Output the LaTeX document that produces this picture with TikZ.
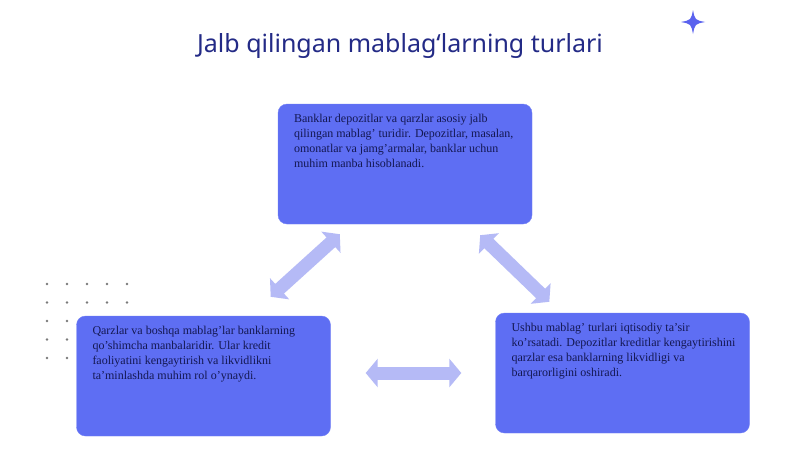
\documentclass[tikz,border=0pt]{standalone}
\usepackage{fontspec}
\setmainfont{Liberation Serif}
\newfontfamily\titlefont{Noto Sans}
\usetikzlibrary{arrows.meta,positioning}

\definecolor{boxblue}{HTML}{5E6EF3}
\definecolor{boxedge}{HTML}{7482F6}
\definecolor{boxtext}{HTML}{141852}
\definecolor{titleblue}{HTML}{232A86}
\definecolor{arrowblue}{HTML}{B5BAF6}
\definecolor{dotgray}{HTML}{7A7A7A}
\definecolor{starblue}{HTML}{5A62EE}

\begin{document}
\begin{tikzpicture}[x=1pt, y=-1pt]
    \tikzstyle{infobox} = [rectangle, rounded corners=9pt, minimum width=254pt, minimum height=120pt, inner sep=0pt, draw=boxedge, fill=boxblue, text=boxtext, font=\fontsize{12}{15}\selectfont]
    \tikzstyle{link} = [line width=13pt, draw=arrowblue, {Triangle[width=28pt,length=12pt]}-{Triangle[width=28pt,length=12pt]}]
    \tikzstyle{heading} = [font=\titlefont\fontsize{25}{30}\selectfont, text=titleblue]

    \useasboundingbox (0,0) rectangle (800,450);
    \fill[white] (0,0) rectangle (800,450);

    % Dot grid
    \foreach \i in {0,...,4}
        \foreach \j in {0,...,4}
            \fill[dotgray] (47+20*\i, 284+18.5*\j) circle (1.3pt);

    % Star
    \fill[starblue] (693,10) .. controls (695,20) .. (705,22) .. controls (695,24) .. (693,34)
        .. controls (691,24) .. (681,22) .. controls (691,20) .. (693,10) -- cycle;

    % Title
    \node [heading] (title) at (400,46) {Jalb qilingan mablag‘larning turlari};

    % Boxes
    \node [infobox] (deposits) at (405,164) {\parbox[c][100pt][t]{226pt}{\raggedright\hspace*{2pt}%
        Banklar depozitlar va qarzlar asosiy jalb\\
        \hspace*{2pt}qilingan mablag' turidir. Depozitlar, masalan,\\
        \hspace*{2pt}omonatlar va jamg'armalar, banklar uchun\\
        \hspace*{2pt}muhim manba hisoblanadi.}};
    \node [infobox] (loans) at (203.5,376) {\parbox[c][100pt][t]{226pt}{\raggedright\hspace*{2pt}%
        Qarzlar va boshqa mablag'lar banklarning\\
        \hspace*{2pt}qo'shimcha manbalaridir. Ular kredit\\
        \hspace*{2pt}faoliyatini kengaytirish va likvidlikni\\
        \hspace*{2pt}ta'minlashda muhim rol o'ynaydi.}};
    \node [infobox] (impact) at (622.5,373) {\parbox[c][100pt][t]{226pt}{\raggedright\hspace*{2pt}%
        Ushbu mablag' turlari iqtisodiy ta'sir\\
        \hspace*{2pt}ko'rsatadi. Depozitlar kreditlar kengaytirishini\\
        \hspace*{2pt}qarzlar esa banklarning likvidligi va\\
        \hspace*{2pt}barqarorligini oshiradi.}};

    % Connections
    \draw [link] ([shift={(-60,-19)}]loans.north east) -- ([shift={(62,10)}]deposits.south west);
    \draw [link] ([shift={(-52,11)}]deposits.south east) -- ([shift={(54,-11)}]impact.north west);
    \draw [link] ([shift={(35,-3)}]loans.east) -- ([shift={(-34,0)}]impact.west);
\end{tikzpicture}
\end{document}
